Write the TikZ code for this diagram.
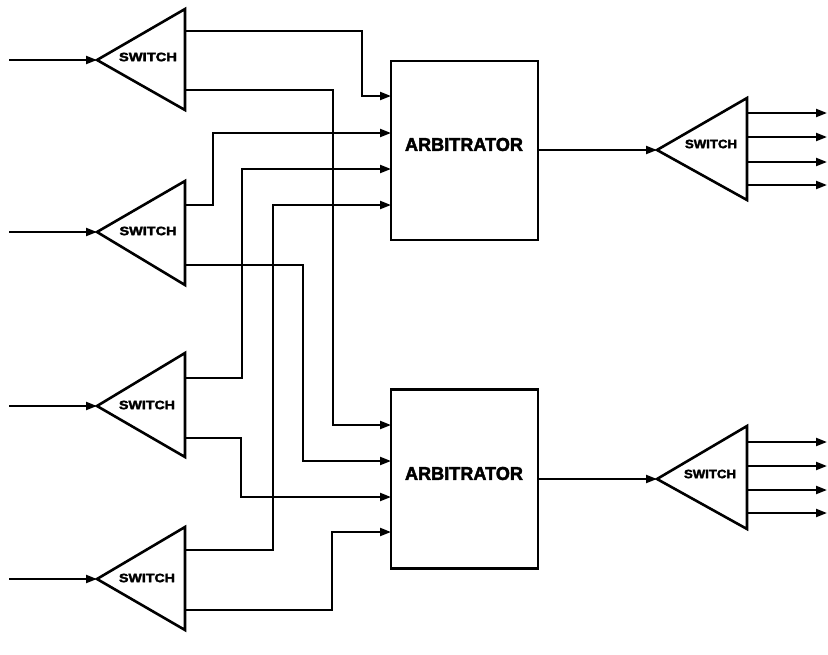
\documentclass[tikz,border=0pt]{standalone}
\usepackage{fontspec}
\setmainfont{Liberation Sans}
\newfontfamily\heavyfont[BoldFeatures={FakeBold=2.5}]{Liberation Sans}
\usetikzlibrary{arrows.meta}
\tikzset{
  wire/.style={line width=2.1pt},
  arr/.style={wire,-{Triangle[length=11pt,width=8pt]}},
  tri/.style={line width=2.6pt, line join=miter},
  lbl/.style={inner sep=0pt, outer sep=0pt},
  arbbox/.style={draw, line width=2.8pt, minimum width=147pt, minimum height=179pt, inner sep=0pt}
}
\newcommand{\swlbl}[2]{\resizebox{#1}{#2}{\heavyfont\bfseries SWITCH}}
\newcommand{\arblbl}{\resizebox{118pt}{13pt}{\heavyfont\bfseries ARBITRATOR}}
\begin{document}
\begin{tikzpicture}[x=1pt,y=-1pt]
\useasboundingbox (0,0) rectangle (828,654);
\fill[white] (0,0) rectangle (828,654);

% ---------- left switches ----------
% S1
\draw[tri] (97,60) -- (185,9) -- (185,110) -- cycle;
\coordinate (s1in) at (97,60);
\coordinate (s1src) at (9,60);
\coordinate (s1a) at (185,31);
\coordinate (s1b) at (185,90);
\node[lbl] (s1t) at (148,57) {\swlbl{58pt}{8.5pt}};
% S2
\draw[tri] (97,232) -- (185,181) -- (185,285) -- cycle;
\coordinate (s2in) at (97,232);
\coordinate (s2src) at (9,232);
\coordinate (s2a) at (185,205);
\coordinate (s2b) at (185,265);
\node[lbl] (s2t) at (148,231) {\swlbl{57pt}{8.5pt}};
% S3
\draw[tri] (97,406) -- (185,353) -- (185,457) -- cycle;
\coordinate (s3in) at (97,406);
\coordinate (s3src) at (9,406);
\coordinate (s3a) at (185,378);
\coordinate (s3b) at (185,438);
\node[lbl] (s3t) at (147,405) {\swlbl{56pt}{8.5pt}};
% S4
\draw[tri] (97,579) -- (185,527) -- (185,630) -- cycle;
\coordinate (s4in) at (97,579);
\coordinate (s4src) at (9,579);
\coordinate (s4a) at (185,550);
\coordinate (s4b) at (185,610);
\node[lbl] (s4t) at (147,578) {\swlbl{56pt}{8.5pt}};

\draw[arr] (s1src) -- (s1in);
\draw[arr] (s2src) -- (s2in);
\draw[arr] (s3src) -- (s3in);
\draw[arr] (s4src) -- (s4in);

% ---------- arbitrators ----------
\node[arbbox] (arb1) at (464.5,150.5) {};
\node[lbl] (arb1t) at (464,144.5) {\arblbl};
\coordinate (a1i1) at (391,96);
\coordinate (a1i2) at (391,133);
\coordinate (a1i3) at (391,169);
\coordinate (a1i4) at (391,205);
\coordinate (a1o) at (538,150);

\node[arbbox] (arb2) at (464.5,479) {};
\node[lbl] (arb2t) at (464,473.5) {\arblbl};
\coordinate (a2i1) at (391,425);
\coordinate (a2i2) at (391,461);
\coordinate (a2i3) at (391,497);
\coordinate (a2i4) at (391,532);
\coordinate (a2o) at (538,479);

% ---------- crossbar wiring ----------
\draw[arr] (s1a) -- ++(177,0) |- (a1i1);
\draw[arr] (s1b) -- ++(148,0) |- (a2i1);
\draw[arr] (s2a) -- ++(28,0) |- (a1i2);
\draw[arr] (s2b) -- ++(118,0) |- (a2i2);
\draw[arr] (s3a) -- ++(57,0) |- (a1i3);
\draw[arr] (s3b) -- ++(56,0) |- (a2i3);
\draw[arr] (s4a) -- ++(88,0) |- (a1i4);
\draw[arr] (s4b) -- ++(147,0) |- (a2i4);

% ---------- right switches ----------
\draw[tri] (657,150) -- (747,98) -- (747,200) -- cycle;
\coordinate (r1in) at (657,150);
\node[lbl] (r1t) at (711,144) {\swlbl{52pt}{8.5pt}};
\foreach \yy/\nm in {113/a,137/b,162/c,185/d}{
  \coordinate (r1\nm) at (747,\yy);
  \coordinate (r1\nm e) at (827,\yy);
  \draw[arr] (r1\nm) -- (r1\nm e);
}
\draw[arr] (a1o) -- (r1in);

\draw[tri] (657,479) -- (747,426) -- (747,529) -- cycle;
\coordinate (r2in) at (657,479);
\node[lbl] (r2t) at (710,474) {\swlbl{52pt}{8.5pt}};
\foreach \yy/\nm in {442/a,466/b,490/c,513/d}{
  \coordinate (r2\nm) at (747,\yy);
  \coordinate (r2\nm e) at (827,\yy);
  \draw[arr] (r2\nm) -- (r2\nm e);
}
\draw[arr] (a2o) -- (r2in);
\end{tikzpicture}
\end{document}
